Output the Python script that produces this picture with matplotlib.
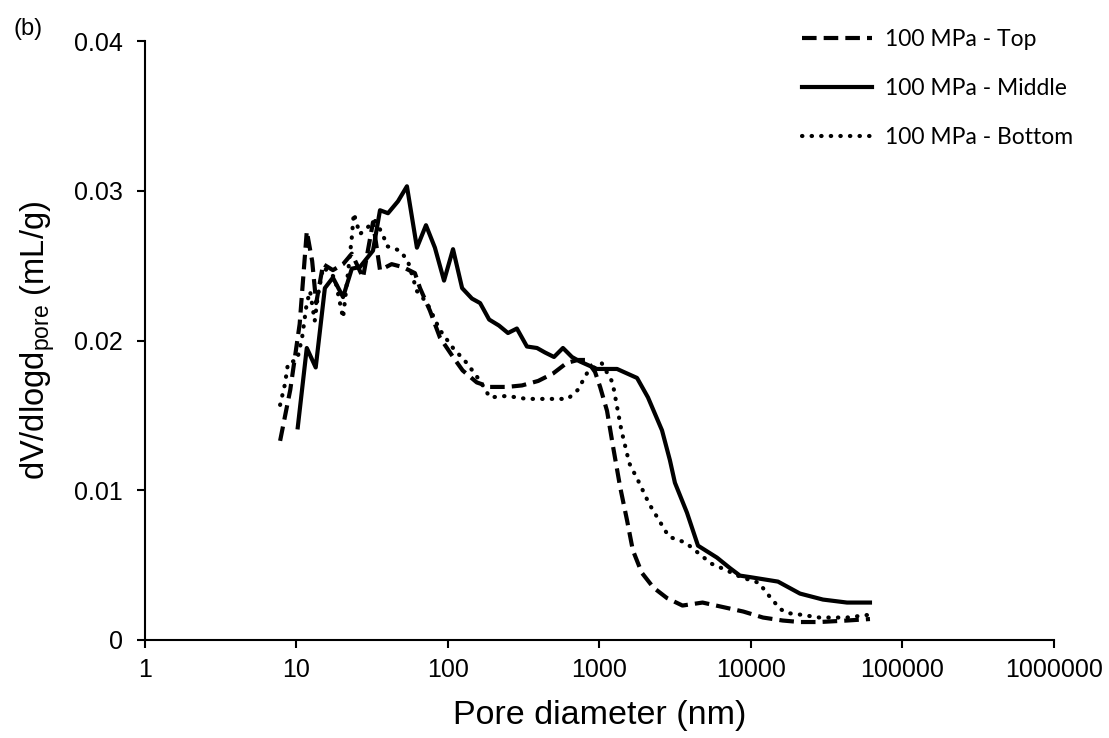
import numpy as np
import matplotlib.pyplot as plt

# pore diameter (nm) and dV/dlogd (mL/g)
top_d = [7.8, 9.1, 10.5, 11.7, 12.7, 13.5, 15.0, 17.4, 20.3, 23.2, 27.5, 32.0, 35.6,
         42.5, 50.5, 60.5, 65.4, 76.0, 88.5, 108, 125, 155, 189, 245, 308, 394, 494,
         608, 719, 823, 935, 1010, 1122, 1230, 1370, 1520, 1660, 1900, 2270, 2790,
         3530, 4790, 6530, 8900, 12000, 16200, 21000, 28300, 43000, 61000]
top_v = [0.0133, 0.0167, 0.0211, 0.0273, 0.0253, 0.0225, 0.0251, 0.0247, 0.0251,
         0.0258, 0.0242, 0.0279, 0.0247, 0.0251, 0.0249, 0.0245, 0.0235, 0.0220,
         0.0202, 0.0189, 0.0180, 0.0172, 0.0169, 0.0169, 0.0170, 0.0173, 0.0178,
         0.0185, 0.0187, 0.0187, 0.0179, 0.0169, 0.0153, 0.0129, 0.0102, 0.0080,
         0.0060, 0.0045, 0.0035, 0.0028, 0.0023, 0.0025, 0.0022, 0.0019, 0.0015,
         0.0013, 0.0012, 0.0012, 0.0013, 0.0014]

mid_d = [10.2, 11.7, 13.4, 15.4, 17.4, 20.3, 23.2, 26.2, 32.0, 35.6, 40.2, 46.8, 53.6,
         62.4, 71.6, 82.0, 94.2, 108, 124, 144, 163, 187, 217, 249, 285, 332, 387,
         437, 501, 574, 658, 743, 865, 962, 1122, 1306, 1520, 1770, 2090, 2587, 2918,
         3148, 3781, 4470, 5966, 7267, 8456, 9840, 15070, 21050, 29850, 43020, 61000]
mid_v = [0.0142, 0.0195, 0.0182, 0.0235, 0.0242, 0.0229, 0.0248, 0.0249, 0.0260,
         0.0287, 0.0285, 0.0293, 0.0303, 0.0262, 0.0277, 0.0262, 0.0240, 0.0261,
         0.0235, 0.0228, 0.0225, 0.0214, 0.0210, 0.0205, 0.0208, 0.0196, 0.0195,
         0.0192, 0.0189, 0.0195, 0.0189, 0.0186, 0.0183, 0.0181, 0.0181, 0.0181,
         0.0178, 0.0175, 0.0162, 0.0140, 0.0120, 0.0105, 0.0085, 0.0063, 0.0055,
         0.0048, 0.0043, 0.0042, 0.0039, 0.0031, 0.0027, 0.0025, 0.0025]

bot_d = [7.8, 8.4, 8.8, 10.1, 10.9, 11.7, 12.3, 13.2, 13.8, 15.0, 17.9, 20.3, 21.5,
         23.2, 23.9, 26.2, 33.0, 37.1, 39.6, 48.3, 54.4, 62.4, 72.8, 88.5, 108, 133,
         163, 189, 245, 331, 455, 618, 719, 836, 1033, 1220, 1396, 1574, 1829, 2126,
         2471, 2872, 3706, 4502, 5469, 6747, 8583, 11420, 12500, 13870, 15400, 17400,
         20930, 28310, 43000, 62000]
bot_v = [0.0157, 0.0171, 0.0185, 0.0187, 0.0202, 0.0225, 0.0233, 0.0213, 0.0229,
         0.0249, 0.0242, 0.0215, 0.0238, 0.0269, 0.0285, 0.0271, 0.0280, 0.0271,
         0.0263, 0.0260, 0.0253, 0.0233, 0.0225, 0.0207, 0.0195, 0.0185, 0.0173,
         0.0162, 0.0163, 0.0161, 0.0161, 0.0161, 0.0167, 0.0179, 0.0185, 0.0172,
         0.0140, 0.0118, 0.0105, 0.0091, 0.0080, 0.0069, 0.0065, 0.0058, 0.0051,
         0.0047, 0.0042, 0.0038, 0.0032, 0.0027, 0.0021, 0.0018, 0.0017, 0.0015,
         0.0015, 0.0017]

plt.rcParams['font.family'] = ['Liberation Sans', 'DejaVu Sans']

fig = plt.figure(figsize=(11.09, 7.38), dpi=100)
ax = fig.add_axes([0.1307, 0.1328, 0.8197, 0.8116])

ax.plot(top_d, top_v, color='black', lw=3.0, linestyle=(0, (3.5, 1.7)), label='100 MPa - Top')
ax.plot(mid_d, mid_v, color='black', lw=3.0, linestyle='-', label='100 MPa - Middle')
ax.plot(bot_d, bot_v, color='black', lw=3.0, linestyle=(0, (0.1, 2.2)),
        dash_capstyle='round', label='100 MPa - Bottom')

ax.set_xscale('log')
ax.set_xlim(1, 1000000)
ax.set_ylim(0, 0.04)
ax.set_xticks([1, 10, 100, 1000, 10000, 100000, 1000000])
ax.set_xticklabels(['1', '10', '100', '1000', '10000', '100000', '1000000'])
ax.xaxis.set_minor_locator(plt.NullLocator())
ax.set_yticks([0, 0.01, 0.02, 0.03, 0.04])
ax.set_yticklabels(['0', '0.01', '0.02', '0.03', '0.04'])
ax.tick_params(axis='both', labelsize=18, width=1.5, length=6, direction='out')
ax.tick_params(axis='x', pad=7)
ax.tick_params(axis='y', pad=10)

for s in ['top', 'right']:
    ax.spines[s].set_visible(False)
for s in ['left', 'bottom']:
    ax.spines[s].set_linewidth(1.5)

ax.set_xlabel('Pore diameter (nm)', fontsize=24.5, labelpad=13)
ax.set_ylabel(r'dV/dlogd$_{\mathregular{pore}}$ (mL/g)', fontsize=23.5, labelpad=12)

fig.text(0.012, 0.953, '(b)', fontsize=17)

leg = ax.legend(loc='upper left', bbox_to_anchor=(0.715, 0.973), bbox_transform=fig.transFigure,
                frameon=False, borderaxespad=0, handlelength=3.05, labelspacing=1.21,
                handletextpad=0.57, prop={'family': 'Lato', 'size': 16.5})

fig.savefig('out.png', dpi=100)
